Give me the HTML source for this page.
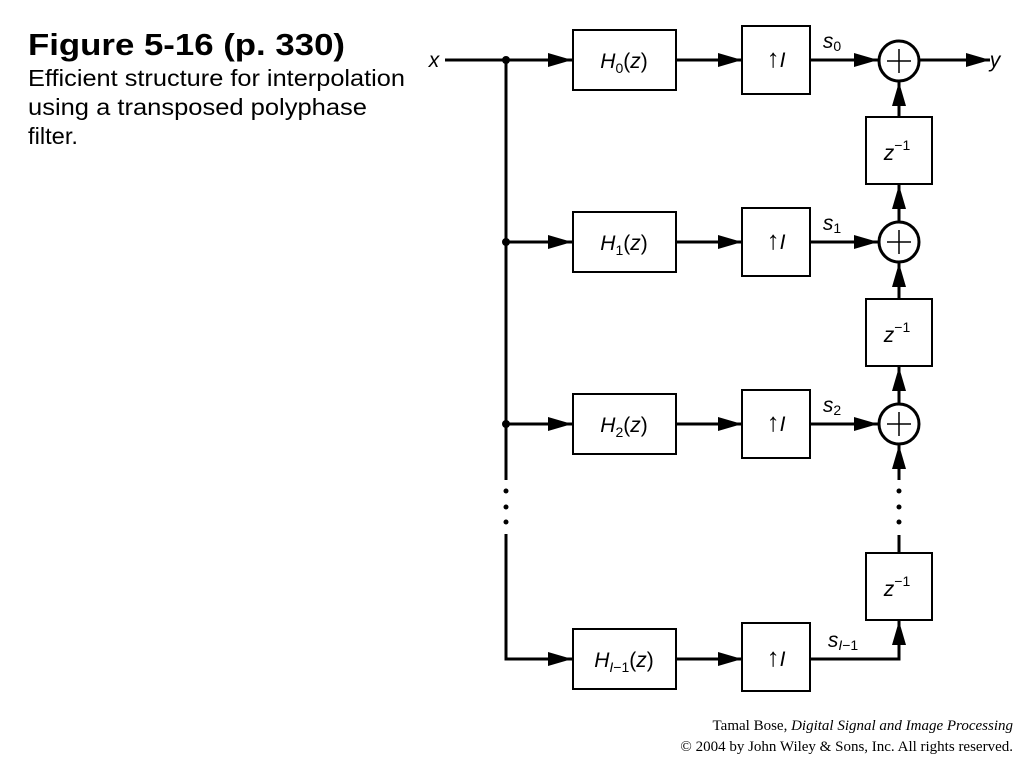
<!DOCTYPE html>
<html><head><style>body{margin:0;background:#fff}</style></head><body>
<svg width="1024" height="768" xmlns="http://www.w3.org/2000/svg" font-family="Liberation Sans, sans-serif">
<defs>
<marker id="b" markerWidth="24" markerHeight="14" refX="24" refY="7" orient="auto" markerUnits="userSpaceOnUse"><path d="M0,0 L24,7 L0,14 z" fill="#000"/></marker></defs>
<text x="28" y="55" font-size="31" font-weight="bold" textLength="317" lengthAdjust="spacingAndGlyphs">Figure 5-16  (p. 330)</text>
<text font-size="23"><tspan x="28" y="86" textLength="377" lengthAdjust="spacingAndGlyphs">Efficient structure for interpolation</tspan></text>
<text font-size="23"><tspan x="28" y="115" textLength="339" lengthAdjust="spacingAndGlyphs">using a transposed polyphase</tspan></text>
<text font-size="23"><tspan x="28" y="144" textLength="50" lengthAdjust="spacingAndGlyphs">filter.</tspan></text>
<g stroke="#000" stroke-width="3" fill="none">
<line x1="445" y1="60" x2="572" y2="60" marker-end="url(#b)"/>
<polyline points="506,60 506,480"/>
<polyline points="506,534 506,659 572,659" marker-end="url(#b)"/>
<line x1="506" y1="242" x2="572" y2="242" marker-end="url(#b)"/>
<line x1="506" y1="424" x2="572" y2="424" marker-end="url(#b)"/>
<line x1="676" y1="60" x2="742" y2="60" marker-end="url(#b)"/>
<line x1="676" y1="242" x2="742" y2="242" marker-end="url(#b)"/>
<line x1="676" y1="424" x2="742" y2="424" marker-end="url(#b)"/>
<line x1="676" y1="659" x2="742" y2="659" marker-end="url(#b)"/>
<line x1="810" y1="60" x2="878" y2="60" marker-end="url(#b)"/>
<line x1="810" y1="242" x2="878" y2="242" marker-end="url(#b)"/>
<line x1="810" y1="424" x2="878" y2="424" marker-end="url(#b)"/>
<line x1="920" y1="60" x2="990" y2="60" marker-end="url(#b)"/>
<line x1="899" y1="117" x2="899" y2="82" marker-end="url(#b)"/>
<line x1="899" y1="299" x2="899" y2="263" marker-end="url(#b)"/>
<line x1="899" y1="480" x2="899" y2="445" marker-end="url(#b)"/>
<line x1="899" y1="553" x2="899" y2="535"/>
<polyline points="810,659 899,659 899,621" marker-end="url(#b)"/>
<line x1="899" y1="221" x2="899" y2="185" marker-end="url(#b)"/>
<line x1="899" y1="403" x2="899" y2="367" marker-end="url(#b)"/>
</g>
<g fill="#000"><circle cx="506" cy="60" r="4"/><circle cx="506" cy="242" r="4"/><circle cx="506" cy="424" r="4"/>
<circle cx="506" cy="491" r="2.5"/><circle cx="506" cy="507" r="2.5"/><circle cx="506" cy="522" r="2.5"/>
<circle cx="899" cy="491" r="2.5"/><circle cx="899" cy="507" r="2.5"/><circle cx="899" cy="522" r="2.5"/></g>
<g stroke="#000" stroke-width="2" fill="#fff">
<rect x="573" y="30" width="103" height="60"/><rect x="573" y="212" width="103" height="60"/><rect x="573" y="394" width="103" height="60"/><rect x="573" y="629" width="103" height="60"/>
<rect x="742" y="26" width="68" height="68"/><rect x="742" y="208" width="68" height="68"/><rect x="742" y="390" width="68" height="68"/><rect x="742" y="623" width="68" height="68"/>
<rect x="866" y="117" width="66" height="67"/><rect x="866" y="299" width="66" height="67"/><rect x="866" y="553" width="66" height="67"/>
</g>
<g stroke="#000" stroke-width="3" fill="#fff">
<circle cx="899" cy="61" r="20"/><circle cx="899" cy="242" r="20"/><circle cx="899" cy="424" r="20"/></g>
<g stroke="#000" stroke-width="1.5"><path d="M887,61h24M899,49v24M887,242h24M899,230v24M887,424h24M899,412v24"/></g>
<g font-size="21" font-style="italic" text-anchor="middle">
<text x="624" y="68">H<tspan font-size="14" dy="5" font-style="normal">0</tspan><tspan dy="-5" font-style="normal">(</tspan>z<tspan font-style="normal">)</tspan></text>
<text x="624" y="250">H<tspan font-size="14" dy="5" font-style="normal">1</tspan><tspan dy="-5" font-style="normal">(</tspan>z<tspan font-style="normal">)</tspan></text>
<text x="624" y="432">H<tspan font-size="14" dy="5" font-style="normal">2</tspan><tspan dy="-5" font-style="normal">(</tspan>z<tspan font-style="normal">)</tspan></text>
<text x="624" y="667">H<tspan font-size="14" dy="5">I</tspan><tspan font-size="14" font-style="normal">−1</tspan><tspan dy="-5" font-style="normal">(</tspan>z<tspan font-style="normal">)</tspan></text>
<text x="776" y="67"><tspan font-style="normal" font-size="26">↑</tspan>I</text>
<text x="776" y="249"><tspan font-style="normal" font-size="26">↑</tspan>I</text>
<text x="776" y="431"><tspan font-style="normal" font-size="26">↑</tspan>I</text>
<text x="776" y="666"><tspan font-style="normal" font-size="26">↑</tspan>I</text>
<text x="897" y="160">z<tspan font-size="14" dy="-10" font-style="normal">−1</tspan></text>
<text x="897" y="342">z<tspan font-size="14" dy="-10" font-style="normal">−1</tspan></text>
<text x="897" y="596">z<tspan font-size="14" dy="-10" font-style="normal">−1</tspan></text>
<text x="832" y="48">s<tspan font-size="14" dy="3" font-style="normal">0</tspan></text>
<text x="832" y="230">s<tspan font-size="14" dy="3" font-style="normal">1</tspan></text>
<text x="832" y="412">s<tspan font-size="14" dy="3" font-style="normal">2</tspan></text>
<text x="843" y="647">s<tspan font-size="14" dy="3">I</tspan><tspan font-size="14" font-style="normal">−1</tspan></text>
<text x="434" y="67">x</text>
<text x="995" y="67">y</text>
</g>
<g font-family="Liberation Serif, serif" font-size="15" text-anchor="end">
<text x="1013" y="730">Tamal Bose, <tspan font-style="italic">Digital Signal and Image Processing</tspan></text>
<text x="1013" y="751">© 2004 by John Wiley &amp; Sons, Inc.  All rights reserved.</text>
</g>
</svg>
</body></html>
